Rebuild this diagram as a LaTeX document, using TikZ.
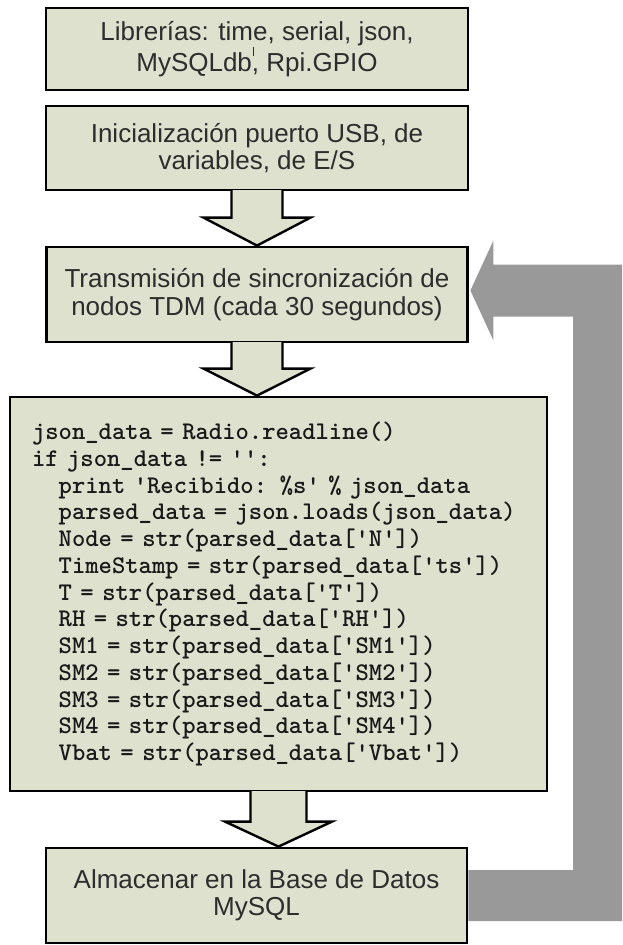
\documentclass[tikz,border=0pt]{standalone}
\usepackage{fontspec}
\newfontfamily\labelfont{Liberation Sans}
\newfontfamily\codefont{lmmonolt10-bold.otf}
\usetikzlibrary{calc,backgrounds}

\definecolor{boxfill}{RGB}{221,225,206}
\definecolor{loopgray}{RGB}{153,153,153}
\definecolor{labelink}{RGB}{45,45,45}
\definecolor{codeink}{RGB}{25,25,25}

% Hollow block arrow from the bottom of #1 to the top of #2
% #3 shaft half-width, #4 head half-width, #5 head length (pt)
\newcommand{\flowarrow}[5]{%
  \fill[boxfill] let \p1=(#1.south), \p2=(#2.north) in
    (\x1-#3pt,\y1+1.4pt) -- (\x1-#3pt,\y2+#5pt) -- (\x1-#4pt,\y2+#5pt) --
    (\x1,\y2) -- (\x1+#4pt,\y2+#5pt) -- (\x1+#3pt,\y2+#5pt) --
    (\x1+#3pt,\y1+1.4pt) -- cycle;
  \draw[arrowline] let \p1=(#1.south), \p2=(#2.north) in
    (\x1-#3pt,\y1+1.4pt) -- (\x1-#3pt,\y2+#5pt) -- (\x1-#4pt,\y2+#5pt) --
    (\x1,\y2) -- (\x1+#4pt,\y2+#5pt) -- (\x1+#3pt,\y2+#5pt) --
    (\x1+#3pt,\y1+1.4pt);
}

\tikzset{
  flowbox/.style={draw=black, line width=2.8pt, fill=boxfill, text=labelink,
    inner sep=0pt, align=center,
    font=\labelfont\fontsize{26}{27.5}\selectfont},
  codebox/.style={draw=black, line width=2.8pt, fill=boxfill, text=codeink,
    inner xsep=22pt, inner ysep=0pt, align=left,
    font=\codefont\fontsize{25.4}{26.75}\selectfont},
  arrowline/.style={draw=black, line width=2.4pt, line join=miter},
}

\begin{document}
\begin{tikzpicture}[x=1pt, y=-1pt]
  \useasboundingbox (0,0) rectangle (622,945);

  \node[flowbox, minimum width=422pt, minimum height=82pt] (b1) at (257,49)
    {Librerías: time, serial, json,\\
     MySQLdb\rlap{\kern0.6pt\raisebox{0.6em}{\rule{0.7pt}{0.35em}}},
     Rpi.GPIO};
  \node[flowbox, minimum width=422pt, minimum height=84pt] (b2) at (257,148)
    {Inicialización puerto USB, de\\ variables, de E/S};
  \node[flowbox, minimum width=421pt, minimum height=95pt] (b3) at (257,294.5)
    {Transmisión de sincronización de\\ nodos TDM (cada 30 segundos)};
  \node[codebox, minimum width=537pt, minimum height=394pt, text width=493pt]
    (code) at (278.5,594)
    {json\_data = Radio.readline()\\
     if json\_data != '':\\
     \phantom{xx}print 'Recibido: \%s' \% json\_data\\
     \phantom{xx}parsed\_data = json.loads(json\_data)\\
     \phantom{xx}Node = str(parsed\_data['N'])\\
     \phantom{xx}TimeStamp = str(parsed\_data['ts'])\\
     \phantom{xx}T = str(parsed\_data['T'])\\
     \phantom{xx}RH = str(parsed\_data['RH'])\\
     \phantom{xx}SM1 = str(parsed\_data['SM1'])\\
     \phantom{xx}SM2 = str(parsed\_data['SM2'])\\
     \phantom{xx}SM3 = str(parsed\_data['SM3'])\\
     \phantom{xx}SM4 = str(parsed\_data['SM4'])\\
     \phantom{xx}Vbat = str(parsed\_data['Vbat'])};
  \node[flowbox, minimum width=421pt, minimum height=95pt] (b5) at (256.5,895.5)
    {Almacenar en la Base de Datos\\ MySQL};

  % hollow arrows between the steps
  \flowarrow{b2}{b3}{25.5}{53.5}{28}
  \flowarrow{b3}{code}{25.5}{53.5}{27}
  \flowarrow{code}{b5}{28}{53.5}{25}

  % grey loop back from the database step to the synchronisation step
  \begin{scope}[on background layer]
    \fill[white] (0,0) rectangle (622,945);
    \fill[loopgray] ([shift={(1.5,-4)}]b3.east) coordinate (tip)
      -- (493.4,240.5) -- (493.4,264.5) -- (622,264.5) -- (622,921)
      -- (b5.east |- 0,921) -- (b5.east |- 0,870) -- (573,870)
      -- (573,316.5) -- (493.4,316.5) -- (493.4,340.5) -- cycle;
  \end{scope}
\end{tikzpicture}
\end{document}
